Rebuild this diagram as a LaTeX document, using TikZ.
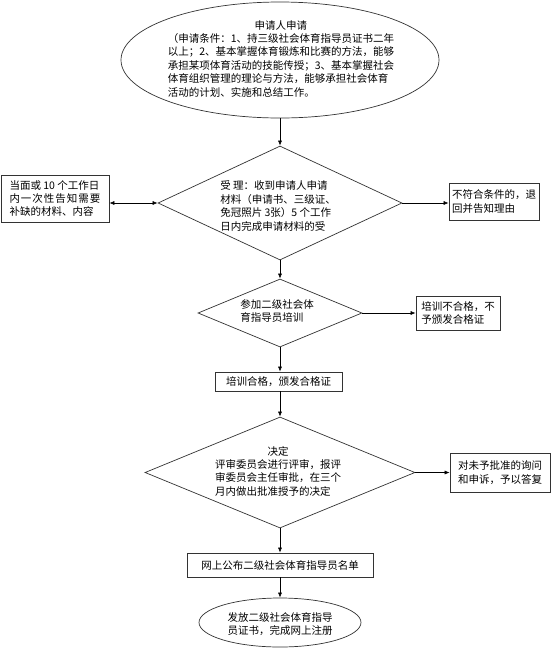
\documentclass[tikz,border=0pt]{standalone}
\usepackage{fontspec}
\setmainfont{Noto Sans CJK SC}
\usetikzlibrary{shapes.geometric,arrows.meta}
\begin{document}
\begin{tikzpicture}[x=1pt,y=-1pt,
  every node/.style={font=\fontsize{10.5}{13.4}\selectfont, text=black},
  dia/.style={draw=black!80, line width=0.7pt, diamond, inner sep=0pt},
  ell/.style={draw=black!80, line width=0.7pt, ellipse, inner sep=0pt},
  boxnode/.style={draw=black!80, line width=0.7pt, rectangle, inner sep=0pt, align=left},
  txt/.style={inner sep=0pt, align=left},
  arr/.style={-{Latex[length=5pt,width=4pt]}, line width=0.6pt},
  darr/.style={{Latex[length=5pt,width=4pt]}-{Latex[length=5pt,width=4pt]}, line width=0.6pt}]
\useasboundingbox[fill=white] (0,0) rectangle (554,649);

% top ellipse
\node[ell, minimum width=318pt, minimum height=116pt] (e1) at (280,60) {};
\node[txt] (e1t) at (281,60) {\begin{tabular}{@{}l@{}}\multicolumn{1}{@{}c@{}}{申请人申请}\\
（申请条件：1、持三级社会体育指导员证书二年\\
以上；2、基本掌握体育锻炼和比赛的方法，能够\\
承担某项体育活动的技能传授；3、基本掌握社会\\
体育组织管理的理论与方法，能够承担社会体育\\
活动的计划、实施和总结工作。\end{tabular}};

% decision 1
\node[dia, minimum width=244pt, minimum height=114pt] (d1) at (280,203) {};
\node[txt] (d1t) at (278,206) {受 理：收到申请人申请\\材料（申请书、三级证、\\免冠照片 3张）5 个工作\\日内完成申请材料的受};

\node[boxnode, minimum width=108pt, minimum height=47pt] (lb) at (55,198.5)
  {当面或 10 个工作日\\\makebox[91pt][s]{内\hfil 一\hfil 次\hfil 性\hfil 告\hfil 知\hfil 需\hfil 要}\\补缺的材料、内容};
\node[boxnode, minimum width=90pt, minimum height=37pt] (rb1) at (494,201.5)
  {不符合条件的，退\\回并告知理由};

% decision 2
\node[dia, minimum width=164pt, minimum height=68pt] (d2) at (280,313) {};
\node[txt] (d2t) at (277,311) {参加二级社会体\\育指导员培训};
\node[boxnode, minimum width=84pt, minimum height=34pt] (rb2) at (458,313)
  {培训不合格，不\\予颁发合格证};

\node[boxnode, minimum width=127pt, minimum height=19pt] (b3) at (278.5,381.5)
  {培训合格，颁发合格证};

% decision 3
\node[dia, minimum width=270pt, minimum height=111pt] (d3) at (280,472.5) {};
\node[txt] (d3t) at (278,472.5) {\begin{tabular}{@{}l@{}}\multicolumn{1}{@{}c@{}}{决定}\\
评审委员会进行评审，报评\\审委员会主任审批，在三个\\月内做出批准授予的决定\end{tabular}};
\node[boxnode, minimum width=100pt, minimum height=39pt] (rb3) at (500,472.5)
  {对未予批准的询问\\和申诉，予以答复};

\node[boxnode, minimum width=186pt, minimum height=24pt] (b4) at (280,565)
  {网上公布二级社会体育指导员名单};

\node[ell, minimum width=162pt, minimum height=49pt] (e2) at (280,622.5) {};
\node[txt] (e2t) at (280,624) {发放二级社会体育指导\\员证书，完成网上注册};

% connectors
\draw[arr] (e1.south) -- (d1.north);
\draw[darr] (lb.east |- d1.west) -- (d1.west);
\draw[arr] (d1.east) -- (d1.east -| rb1.west);
\draw[arr] (d1.south) -- (d2.north);
\draw[arr] (d2.east) -- (d2.east -| rb2.west);
\draw[arr] (d2.south) -- (d2.south |- b3.north);
\draw[arr] (d3.north |- b3.south) -- (d3.north);
\draw[arr] (d3.east) -- (d3.east -| rb3.west);
\draw[arr] (d3.south) -- (b4.north);
\draw[arr] (b4.south) -- (e2.north);
\end{tikzpicture}
\end{document}
